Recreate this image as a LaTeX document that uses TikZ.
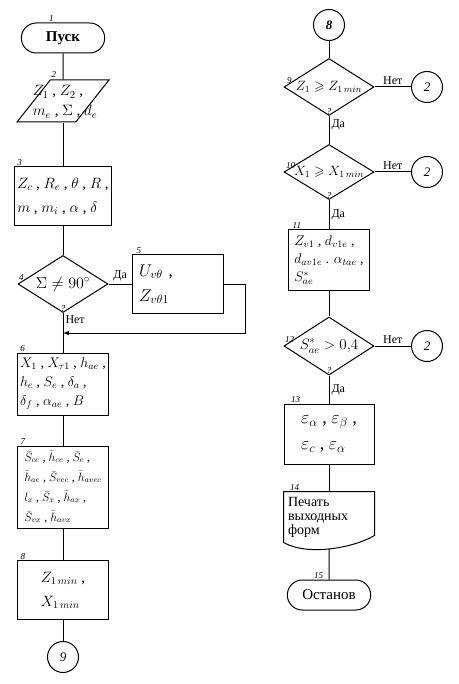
\RequirePackage{fix-cm}
\documentclass[tikz,border=0pt]{standalone}
\usepackage{amssymb}
\usepackage{fontspec}
\setmainfont{Liberation Serif}
\usetikzlibrary{arrows,shapes,positioning,calc}
\tikzset{block/.style={
            draw,
            line width=1pt,
            rectangle,
            align=left,
            inner sep=3pt,
            minimum width=91pt,
            minimum height=59pt,
            font=\fontsize{15}{24}\selectfont
        },
        decision/.style={
            draw,
            line width=1pt,
            diamond,
            inner sep=0pt,
            minimum width=90pt,
            minimum height=57pt
        },
        dtext/.style={
            inner sep=0pt,
            align=left,
            font=\fontsize{13.5}{16}\selectfont
        },
        terminal/.style={
            draw,
            line width=1pt,
            rounded rectangle,
            minimum width=90pt,
            minimum height=30pt,
            font=\fontsize{15}{17}\selectfont
        },
        io/.style={
            draw,
            line width=1pt,
            trapezium,
            trapezium left angle=72,
            trapezium right angle=108,
            trapezium stretches=true,
            inner sep=2pt,
            minimum width=92pt,
            minimum height=42pt
        },
        conn/.style={
            draw,
            line width=1pt,
            circle,
            inner sep=0pt,
            minimum size=31pt,
            font=\itshape\fontsize{13}{15}\selectfont
        },
        tag/.style={
            inner sep=0.5pt,
            font=\itshape\fontsize{9}{10}\selectfont
        },
        yesno/.style={
            inner sep=2pt,
            font=\fontsize{12}{14}\selectfont
        },
        flow/.style={
            line width=1pt,
            >=latex
        }
    }

\begin{document}
\begin{tikzpicture}[x=1pt,y=-1pt]
        \useasboundingbox (0,0) rectangle (458,684);

        % left column
        \node[terminal] (start) at (63,38) {\bfseries Пуск};
        \node[io] (in2) at (63,101) {\strut};
        \node[dtext, font=\fontsize{15}{20}\selectfont] (in2t) at (65,102) {$Z_1$ , $Z_2$ ,\\$m_e$ , $\Sigma$ , $d_e$};
        \node[block] (b3) at (63,196) {$Z_c$ , $R_e$ , $\theta$ , $R$ ,\\$m$ , $m_i$ , $\alpha$ , $\delta$};
        \node[decision] (d4) at (63,284) {};
        \node[dtext, font=\fontsize{16}{18}\selectfont] (d4t) at (d4) {$\Sigma \neq 90^\circ$};
        \node[block, text width=78pt, font=\fontsize{17}{25}\selectfont] (b5) at (178,284) {$U_{v\theta}$ ,\\$Z_{v\theta 1}$};
        \coordinate (j4) at (63,333);
        \node[block, minimum height=62pt, font=\fontsize{14}{19}\selectfont] (b6) at (63,384)
            {$X_1$ , $X_{\tau 1}$ , $h_{ae}$ ,\\$h_e$ , $S_e$ , $\delta_a$ ,\\$\delta_f$ , $\alpha_{ae}$ , $B$};
        \node[block, minimum height=82pt, inner sep=2pt, font=\fontsize{12}{20}\selectfont] (b7) at (63,487)
            {$\bar S_{ce}$ , $\bar h_{ce}$ , $\bar S_e$ ,\\$\bar h_{ae}$ , $\bar S_{vec}$ , $\bar h_{avec}$\\$l_x$ , $\bar S_x$ , $\bar h_{ax}$ ,\\$\bar S_{vx}$ , $\bar h_{avx}$};
        \node[block] (b8) at (63,590) {$Z_{1\,min}$ ,\\$X_{1\,min}$};
        \node[conn] (c9) at (63,657) {9};

        % right column
        \node[conn] (c8) at (329,25) {\bfseries 8};
        \node[decision] (d9) at (329,87) {};
        \node[dtext] (d9t) at (d9) {$Z_1 \geqslant Z_{1\,min}$};
        \node[conn] (e9) at (427,87) {2};
        \node[decision, minimum height=55pt] (d10) at (329,172) {};
        \node[dtext] (d10t) at (d10) {$X_1 \geqslant X_{1\,min}$};
        \node[conn] (e10) at (427,172) {2};
        \node[block, minimum width=81pt, minimum height=60pt, inner sep=2pt, font=\fontsize{14}{18}\selectfont] (b11) at (329,260)
            {$Z_{v1}$ , $d_{v1e}$ ,\\$d_{av1e}$ . $\alpha_{tae}$ ,\\$S^{*}_{ae}$};
        \node[decision, minimum height=58pt] (d12) at (329,346) {};
        \node[dtext, font=\fontsize{15}{17}\selectfont] (d12t) at (d12) {$S^{*}_{ae} > 0{,}4$};
        \node[conn] (e12) at (427,346) {2};
        \node[block, minimum width=90pt, minimum height=60pt, font=\fontsize{18}{26}\selectfont] (b13) at (329,434)
            {$\varepsilon_\alpha$ , $\varepsilon_\beta$ ,\\$\varepsilon_c$ , $\varepsilon_\alpha$};
        \node[block, draw=none, minimum width=90pt, minimum height=50pt, text width=82pt, font=\fontsize{14}{14}\selectfont] (b14) at (329,517)
            {Печать\\выходных\\форм};
        \draw[flow] (b14.south west) -- (b14.north west) -- (b14.north east) -- ([yshift=7pt]b14.south east)
            .. controls +(-20,12) and +(25,14) .. (b14.south west);
        \node[terminal] (stop) at (329,595) {Останов};

        % numbers
        \node[tag, above right=0pt and 12pt of start.north west] (t1) {1};
        \node[tag, above right=1pt and 1pt of in2.top left corner] (t2) {2};
        \node[tag, above right=0pt and 3pt of b3.north west] (t3) {3};
        \node[tag, above right=3pt and 1pt of d4.west] (t4) {4};
        \node[tag, above right=0pt and 4pt of b5.north west] (t5) {5};
        \node[tag, above right=0pt and 3pt of b6.north west] (t6) {6};
        \node[tag, above right=0pt and 3pt of b7.north west] (t7) {7};
        \node[tag, above right=0pt and 3pt of b8.north west] (t8) {8};
        \node[tag, above right=3pt and 3pt of d9.west] (t9) {9};
        \node[tag, above right=3pt and 2pt of d10.west] (t10) {10};
        \node[tag, above right=0pt and 4pt of b11.north west] (t11) {11};
        \node[tag, above right=3pt and 1pt of d12.west] (t12) {12};
        \node[tag, above right=0pt and 7pt of b13.north west] (t13) {13};
        \node[tag, above right=0pt and 6pt of b14.north west] (t14) {14};
        \node[tag, above right=0pt and 11pt of stop.north west] (t15) {15};
        \node[tag, above=1pt of d4.south] (q4) {?};
        \node[tag, above=1pt of d9.south] (q9) {?};
        \node[tag, above=1pt of d10.south] (q10) {?};
        \node[tag, above=1pt of d12.south] (q12) {?};

        % connectors
        \draw[flow] (start) -- (in2);
        \draw[flow] (in2) -- (b3);
        \draw[flow] (b3) -- (d4);
        \draw[flow] (d4) -- node[yesno, above] {Да} (b5);
        \draw[flow] (d4) -- node[yesno, right, pos=0.17] {Нет} (b6);
        \draw[flow,->] (b5.east) -- ++(21,0) |- (j4);
        \draw[flow] (b6) -- (b7);
        \draw[flow] (b7) -- (b8);
        \draw[flow] (b8) -- (c9);
        \draw[flow] (c8) -- (d9);
        \draw[flow] (d9) -- node[yesno, above] {Нет} (e9);
        \draw[flow] (d9) -- node[yesno, right, pos=0.3] {Да} (d10);
        \draw[flow] (d10) -- node[yesno, above] {Нет} (e10);
        \draw[flow] (d10) -- node[yesno, right] {Да} (b11);
        \draw[flow] (b11) -- (d12);
        \draw[flow] (d12) -- node[yesno, above] {Нет} (e12);
        \draw[flow] (d12) -- node[yesno, right] {Да} (b13);
        \draw[flow] (b13) -- (b14);
        \draw[flow] ([yshift=-6pt]b14.south) -- (stop);
\end{tikzpicture}
\end{document}
